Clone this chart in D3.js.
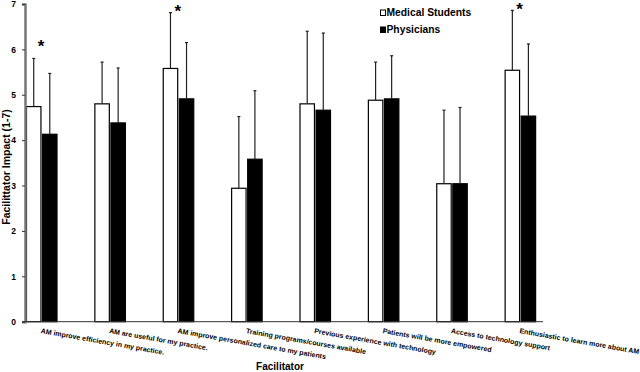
<!DOCTYPE html>
<html lang="en">
<head>
    <meta charset="utf-8">
    <script src="https://d3js.org/d3.v7.min.js"></script>
    <style>
        body { margin: 0; background: #fff; }
        text { font-family: "Liberation Sans", Arial, sans-serif; font-weight: bold; }
    </style>
</head>
<body>
<div id="chart"></div>
<script>
    // data
    var categories = [
        "AM improve efficiency in my practice.",
        "AM are useful for my practice.",
        "AM improve personalized care to my patients",
        "Training programs/courses available",
        "Previous experience with technology",
        "Patients will be more empowered",
        "Access to technology support",
        "Enthusiastic to learn more about AM"
    ]
    var series = ["Medical Students", "Physicians"]
    var students = [4.74, 4.80, 5.58, 2.94, 4.80, 4.88, 3.04, 5.54]
    var studentsErr = [5.80, 5.72, 6.81, 4.52, 6.40, 5.72, 4.66, 6.86]
    var physicians = [4.13, 4.38, 4.91, 3.58, 4.66, 4.91, 3.04, 4.53]
    var physiciansErr = [5.47, 5.59, 6.15, 5.09, 6.36, 5.86, 4.72, 6.12]
    // star position (value units) for significant differences
    var stars = [6.14, null, 6.91, null, null, null, null, 6.95]
    var yTicks = [0, 1, 2, 3, 4, 5, 6, 7]

    var width = 640, height = 372

    var svg = d3.select("#chart")
        .append("svg")
        .attr("width", width)
        .attr("height", height)

    var x = d3.scaleBand().domain(categories).range([25, 572])
    var x1 = d3.scaleBand().domain(series).range([1.5, 32]).paddingInner(0.1)
    var y = d3.scaleLinear().domain([0, 7]).range([321.7, 4])
    var fills = { "Medical Students": "#fff", "Physicians": "#000" }

    var rows = categories.map(function(c, i) {
        return {
            cat: c,
            bars: [
                { s: series[0], v: students[i], e: studentsErr[i] },
                { s: series[1], v: physicians[i], e: physiciansErr[i] }
            ],
            star: stars[i]
        }
    })

    // bars
    var g = svg.selectAll("g.grp")
        .data(rows)
        .enter()
        .append("g")
        .attr("class", "grp")
        .attr("transform", function(d) { return "translate(" + x(d.cat) + ",0)" })

    g.selectAll("rect")
        .data(function(d) { return d.bars })
        .enter()
        .append("rect")
        .attr("x", function(d) { return x1(d.s) })
        .attr("y", function(d) { return y(d.v) })
        .attr("width", x1.bandwidth())
        .attr("height", function(d) { return y(0) - y(d.v) })
        .attr("fill", function(d) { return fills[d.s] })
        .attr("stroke", "#000")
        .attr("stroke-width", 1.2)

    // upper error bars
    var eb = g.selectAll("g.err")
        .data(function(d) { return d.bars })
        .enter()
        .append("g")
        .attr("class", "err")
        .attr("stroke", "#222")
        .attr("stroke-width", 1.2)
    eb.append("line")
        .attr("x1", function(d) { return x1(d.s) + x1.bandwidth() / 2 })
        .attr("x2", function(d) { return x1(d.s) + x1.bandwidth() / 2 })
        .attr("y1", function(d) { return y(d.v) })
        .attr("y2", function(d) { return y(d.e) })
    eb.append("line")
        .attr("x1", function(d) { return x1(d.s) + x1.bandwidth() / 2 - 1.5 })
        .attr("x2", function(d) { return x1(d.s) + x1.bandwidth() / 2 + 1.5 })
        .attr("y1", function(d) { return y(d.e) })
        .attr("y2", function(d) { return y(d.e) })

    // significance stars
    g.filter(function(d) { return d.star != null })
        .append("text")
        .attr("x", 16)
        .attr("y", function(d) { return y(d.star) + 9 })
        .attr("text-anchor", "middle")
        .style("font-size", "17px")
        .text("*")

    // y axis
    var yAxis = svg.append("g")
        .attr("transform", "translate(25,0)")
        .call(d3.axisLeft(y).tickValues(yTicks).tickSize(3).tickPadding(6).tickFormat(d3.format("d")))
    yAxis.select(".domain").attr("stroke", "#777").attr("stroke-width", 2.5)
    yAxis.selectAll(".tick line").attr("stroke", "#333")
    yAxis.selectAll(".tick text").style("font-size", "8.5px").attr("fill", "#000")

    // x axis line
    svg.append("line")
        .attr("x1", 22).attr("x2", 543)
        .attr("y1", y(0)).attr("y2", y(0))
        .attr("stroke", "#333")
        .attr("stroke-width", 1)

    // category labels, slanted
    svg.selectAll("text.cat")
        .data(categories)
        .enter()
        .append("text")
        .attr("class", "cat")
        .attr("transform", function(d) { return "translate(" + (x(d) + 15.5) + ",333) rotate(10)" })
        .style("font-size", "7px")
        .text(function(d) { return d })

    // axis titles
    svg.append("text")
        .attr("transform", "translate(10,167) rotate(-90)")
        .attr("text-anchor", "middle")
        .style("font-size", "10.5px")
        .text("Facilittator Impact (1-7)")

    svg.append("text")
        .attr("x", 280)
        .attr("y", 370)
        .attr("text-anchor", "middle")
        .style("font-size", "10px")
        .text("Facilitator")

    // legend
    var leg = svg.selectAll("g.leg")
        .data(series)
        .enter()
        .append("g")
        .attr("class", "leg")
        .attr("transform", function(d, i) { return "translate(380," + (16 + i * 17) + ")" })
    leg.append("rect")
        .attr("x", 0.5).attr("y", -6)
        .attr("width", 5).attr("height", 5.5)
        .attr("fill", function(d) { return fills[d] })
        .attr("stroke", "#000")
        .attr("stroke-width", 1)
    leg.append("text")
        .attr("x", 6.5)
        .attr("y", 0)
        .style("font-size", "10.3px")
        .text(function(d) { return d })
</script>
</body>
</html>
